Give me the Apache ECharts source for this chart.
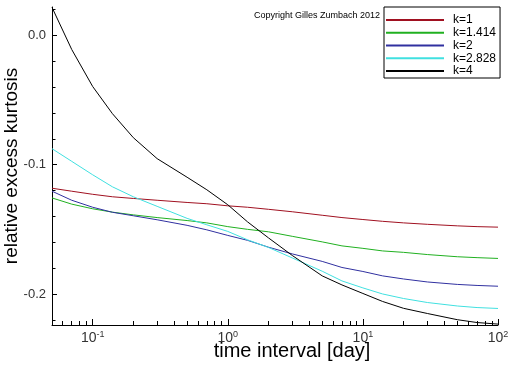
<!DOCTYPE html>
<html>
<head>
<meta charset="utf-8">
<script src="https://cdn.jsdelivr.net/npm/echarts@6/dist/echarts.min.js"></script>
<style>html,body{margin:0;padding:0;background:#fff}#c{width:512px;height:366px}</style>
</head>
<body>
<div id="c"></div>
<script>
// time interval [day]
var timeInterval = [0.05, 0.07, 0.1, 0.14, 0.2, 0.3, 0.5, 0.7, 1, 1.4, 2, 3, 5, 7, 10, 14, 20, 30, 50, 70, 100];
var seriesNames = ['k=1', 'k=1.414', 'k=2', 'k=2.828', 'k=4'];
var k1    = [-0.1182, -0.1205, -0.1229, -0.1248, -0.1261, -0.1275, -0.1292, -0.1302, -0.1318, -0.1329, -0.1345, -0.1364, -0.1391, -0.1409, -0.1424, -0.1438, -0.1450, -0.1461, -0.1473, -0.1479, -0.1483];
var k1414 = [-0.1257, -0.1305, -0.1341, -0.1367, -0.1388, -0.1409, -0.1432, -0.1450, -0.1479, -0.1500, -0.1519, -0.1554, -0.1597, -0.1628, -0.1647, -0.1667, -0.1678, -0.1695, -0.1712, -0.1719, -0.1725];
var k2    = [-0.1205, -0.1275, -0.1329, -0.1368, -0.1395, -0.1426, -0.1469, -0.1504, -0.1547, -0.1585, -0.1638, -0.1690, -0.1748, -0.1795, -0.1826, -0.1860, -0.1884, -0.1907, -0.1926, -0.1934, -0.1940];
var k2828 = [-0.0876, -0.0974, -0.1078, -0.1171, -0.1248, -0.1322, -0.1415, -0.1465, -0.1516, -0.1581, -0.1640, -0.1721, -0.1824, -0.1899, -0.1953, -0.2000, -0.2035, -0.2066, -0.2093, -0.2105, -0.2112];
var k4    = [0.0217, -0.0109, -0.0395, -0.0605, -0.0791, -0.0953, -0.1097, -0.1194, -0.1310, -0.1442, -0.1566, -0.1702, -0.1860, -0.1930, -0.1996, -0.2058, -0.2111, -0.2151, -0.2199, -0.2221, -0.2233];
var xMajorTicks = [0.1, 1, 10, 100];
var xMinorTicks = [0.06, 0.07, 0.08, 0.09, 0.2, 0.3, 0.4, 0.5, 0.6, 0.7, 0.8, 0.9, 2, 3, 4, 5, 6, 7, 8, 9, 20, 30, 40, 50, 60, 70, 80, 90];
var yMajorTicks = [-0.2, -0.1, 0.0];
var yMinorTicks = [-0.22, -0.18, -0.16, -0.14, -0.12, -0.08, -0.06, -0.04, -0.02, 0.02];

var colors = ['#a01020', '#20b020', '#3030a0', '#40e0e0', '#000000'];
var values = [k1, k1414, k2, k2828, k4];
var FONT = 'Liberation Sans';

function pairs(v) { return timeInterval.map(function (t, i) { return [t, v[i]]; }); }

var chart = echarts.init(document.getElementById('c'));
var series = seriesNames.map(function (n, i) {
  return {
    name: n, type: 'line', data: pairs(values[i]), xAxisIndex: 0, yAxisIndex: 0,
    symbol: 'none', showSymbol: false, smooth: false,
    lineStyle: { color: colors[i], width: 1 }, itemStyle: { color: colors[i] },
    animation: false
  };
});

chart.setOption({
  animation: false,
  textStyle: { fontFamily: FONT },
  grid: { left: 52, right: 14, top: 7, bottom: 41, containLabel: false },
  xAxis: [{
    type: 'log', logBase: 10, min: 0.05, max: 100, position: 'bottom',
    axisLine: { show: true, onZero: false, lineStyle: { color: '#000', width: 1 } },
    axisTick: { show: true, inside: true, length: 6, customValues: xMajorTicks, lineStyle: { color: '#000' } },
    axisLabel: {
      show: true, customValues: xMajorTicks, margin: 5,
      formatter: function (v) { return '{a|10}{b|' + Math.round(Math.log10(v)) + '}'; },
      rich: {
        a: { fontSize: 14, color: '#333', fontFamily: FONT, lineHeight: 16 },
        b: { fontSize: 9, color: '#333', fontFamily: FONT, lineHeight: 9, verticalAlign: 'top' }
      }
    },
    splitLine: { show: false }, minorTick: { show: false }
  }, {
    type: 'log', logBase: 10, min: 0.05, max: 100, position: 'bottom', offset: 0,
    axisLine: { show: false, onZero: false },
    axisTick: { show: true, inside: true, length: 4, customValues: xMinorTicks, lineStyle: { color: '#000' } },
    axisLabel: { show: false }, splitLine: { show: false }
  }],
  yAxis: [{
    type: 'value', min: -0.224, max: 0.022, position: 'left',
    axisLine: { show: true, onZero: false, lineStyle: { color: '#000', width: 1 } },
    axisTick: { show: true, inside: true, length: 5, customValues: yMajorTicks, lineStyle: { color: '#000' } },
    axisLabel: {
      show: true, customValues: yMajorTicks, margin: 6, fontSize: 13, color: '#333', fontFamily: FONT,
      formatter: function (v) { return v.toFixed(1); }
    },
    splitLine: { show: false }
  }, {
    type: 'value', min: -0.224, max: 0.022, position: 'left', offset: 0,
    axisLine: { show: false, onZero: false },
    axisTick: { show: true, inside: true, length: 3.5, customValues: yMinorTicks, lineStyle: { color: '#000' } },
    axisLabel: { show: false }, splitLine: { show: false }
  }],
  legend: {
    data: seriesNames, orient: 'vertical', left: 384, top: 7,
    padding: [7, 4, 1, 1], itemWidth: 58, itemHeight: 10, itemGap: 0.75,
    borderColor: '#000', borderWidth: 1, backgroundColor: '#fff',
    itemStyle: { opacity: 0 },
    textStyle: { fontSize: 12, color: '#000', fontFamily: FONT, padding: [0, 0, 0, 4], lineHeight: 12 },
    selectedMode: false
  },
  graphic: [{
    type: 'text', x: 380, y: 16,
    style: { text: 'Copyright Gilles Zumbach 2012', font: '9px "Liberation Sans"', fill: '#000', align: 'right', verticalAlign: 'middle' }
  }, {
    type: 'text', x: 292, y: 351,
    style: { text: 'time interval [day]', font: '20px "Liberation Sans"', fill: '#000', align: 'center', verticalAlign: 'middle' }
  }, {
    type: 'text', x: 12, y: 166, rotation: Math.PI / 2,
    style: { text: 'relative excess kurtosis', font: '19px "Liberation Sans"', fill: '#000', align: 'center', verticalAlign: 'middle' }
  }],
  series: series
});
</script>
</body>
</html>
